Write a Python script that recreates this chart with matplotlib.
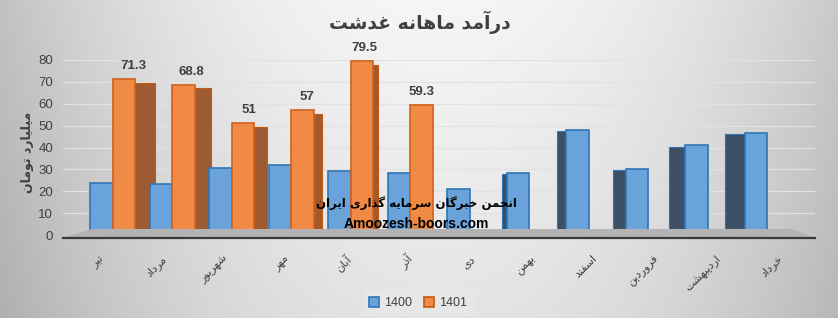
import numpy as np
import matplotlib
matplotlib.use("Agg")
import matplotlib.pyplot as plt
from matplotlib.patches import Patch, Polygon

plt.rcParams['font.family'] = ['Liberation Sans', 'DejaVu Sans']

# ---------------- data ----------------
months = ['تیر', 'مرداد', 'شهریور', 'مهر', 'آبان', 'آذر',
          'دی', 'بهمن', 'اسفند', 'فروردین', 'اردیبهشت', 'خرداد']
vals_1400 = [23.8, 23.4, 30.8, 32.2, 29.4, 28.5, 21, 28.5, 48, 30.4, 41, 46.7]
vals_1401 = [71.3, 68.8, 51, 57, 79.5, 59.3]
series_names = ['1400', '1401']
title = 'درآمد ماهانه غدشت'
ylabel = 'میلیارد تومان'
watermark1 = 'انجمن خبرگان سرمایه گذاری ایران'
watermark2 = 'Amoozesh-boors.com'
yticks = [0, 10, 20, 30, 40, 50, 60, 70, 80]

# ------------- simple Persian shaping (presentation forms) -------------
FORMS = {
    'ا': ('\uFE8D', '\uFE8E', None, None),
    'آ': ('\uFE81', '\uFE82', None, None),
    'ب': ('\uFE8F', '\uFE90', '\uFE91', '\uFE92'),
    'ت': ('\uFE95', '\uFE96', '\uFE97', '\uFE98'),
    'ج': ('\uFE9D', '\uFE9E', '\uFE9F', '\uFEA0'),
    'خ': ('\uFEA5', '\uFEA6', '\uFEA7', '\uFEA8'),
    'د': ('\uFEA9', '\uFEAA', None, None),
    'ذ': ('\uFEAB', '\uFEAC', None, None),
    'ر': ('\uFEAD', '\uFEAE', None, None),
    'ز': ('\uFEAF', '\uFEB0', None, None),
    'س': ('\uFEB1', '\uFEB2', '\uFEB3', '\uFEB4'),
    'ش': ('\uFEB5', '\uFEB6', '\uFEB7', '\uFEB8'),
    'غ': ('\uFECD', '\uFECE', '\uFECF', '\uFED0'),
    'ف': ('\uFED1', '\uFED2', '\uFED3', '\uFED4'),
    'ل': ('\uFEDD', '\uFEDE', '\uFEDF', '\uFEE0'),
    'م': ('\uFEE1', '\uFEE2', '\uFEE3', '\uFEE4'),
    'ن': ('\uFEE5', '\uFEE6', '\uFEE7', '\uFEE8'),
    'ه': ('\uFEE9', '\uFEEA', '\uFEEB', '\uFEEC'),
    'و': ('\uFEED', '\uFEEE', None, None),
    'ی': ('\uFBFC', '\uFBFD', '\uFBFE', '\uFBFF'),
    'گ': ('\uFB92', '\uFB93', '\uFB94', '\uFB95'),
}


def shape(text):
    chars = list(text)
    n = len(chars)
    out = []
    for k, c in enumerate(chars):
        if c not in FORMS:
            out.append(c)
            continue
        iso, fin, ini, med = FORMS[c]
        prev = chars[k - 1] if k > 0 else None
        nxt = chars[k + 1] if k < n - 1 else None
        jp = prev in FORMS and FORMS[prev][2] is not None
        jn = (nxt in FORMS) and ini is not None
        if jp and jn:
            f = med
        elif jp:
            f = fin
        elif jn:
            f = ini
        else:
            f = iso
        out.append(f)
    return ''.join(reversed(out))


# ---------------- figure ----------------
W, H = 838, 318
fig = plt.figure(figsize=(W / 100, H / 100), dpi=100)

# background gradient
bg = fig.add_axes([0, 0, 1, 1], zorder=-10)
gx, gy = np.meshgrid(np.linspace(0, 1, 400), np.linspace(0, 1, 200))
g = 0.965 - 0.19 * ((gx - 0.52) / 0.5) ** 2 - 0.07 * gy
bg.imshow(np.dstack([g, g, g]), extent=[0, 1, 0, 1], aspect='auto',
          origin='upper', vmin=0, vmax=1)
bg.set_axis_off()


def fx(px):
    return px / W


def fy(py):
    return 1 - py / H


ax = fig.add_axes([fx(63), fy(235), fx(815) - fx(63), fy(60) - fy(235)])
ax.set_facecolor('none')
unit = 59.5
ax.set_xlim((63 - 90) / unit, (815 - 90) / unit)
ax.set_ylim(0, 80)

# floor
floor = Polygon([[fx(63), fy(238)], [fx(815), fy(238)], [fx(792), fy(229)], [fx(92), fy(229)]],
                closed=True, transform=fig.transFigure, facecolor='#b3b3b3',
                edgecolor='none', zorder=0)
fig.patches.append(floor)

ax.set_yticks(yticks)
ax.yaxis.grid(True, color='#e2e2e2', lw=0.9)
ax.set_axisbelow(True)
for s in ['top', 'right', 'left', 'bottom']:
    ax.spines[s].set_visible(False)
ax.tick_params(axis='y', length=0, pad=7, labelsize=9.5, labelcolor='#404040')
ax.tick_params(axis='x', length=0)

idx = np.arange(len(months))
bw = 0.38
blue_x = idx + bw / 2
orange_idx = np.arange(len(vals_1401))
orange_x = orange_idx + bw + bw / 2

vp = 440  # perspective vanishing x (px)
side_w = {}

# side faces
for i, v in zip(orange_idx, vals_1401):
    front_c = 90 + (i + bw * 1.5) * unit
    sw = abs(front_c - vp) * 0.063 / unit
    side_w[i] = sw
    if sw > 0.02:
        ax.bar(i + 2 * bw + sw / 2, v - 1.8, width=sw, color='#9e5a30',
               edgecolor='#c55a11', lw=0.8, zorder=2)
for i, v in zip(idx, vals_1400):
    if i < 6:
        continue
    front_c = 90 + (i + bw / 2) * unit
    sw = abs(front_c - vp) * 0.063 / unit
    if sw > 0.02:
        ax.bar(i - sw / 2, v - 0.6, width=sw, color='#3c4f66',
               edgecolor='#2e75b6', lw=0.8, zorder=2)

# front faces
ax.bar(blue_x, vals_1400, width=bw, color='#6aa3d9', edgecolor='#2e75b6',
       lw=1.2, zorder=3)
ax.bar(orange_x, vals_1401, width=bw, color='#f08a44', edgecolor='#d2601a',
       lw=1.2, zorder=3)

# data labels
for i, x, v in zip(orange_idx, orange_x, vals_1401):
    ax.annotate(f'{v:g}', (x + side_w[i] / 2, v), xytext=(0, 5),
                textcoords='offset points', ha='center', va='bottom',
                fontsize=9.5, fontweight='bold', color='#404040')

# bottom axis line
fig.add_artist(plt.Line2D([fx(63), fx(815)], [fy(238), fy(238)],
                          color='#3a3a3a', lw=1.6, transform=fig.transFigure))

# x tick labels
tick_pos = idx + 0.22 + 0.035 * idx
ax.set_xticks(tick_pos)
ax.set_xticklabels([shape(m) for m in months], rotation=45, ha='right',
                   va='center', rotation_mode='anchor', fontsize=8,
                   color='#404040', family='DejaVu Sans')
ax.tick_params(axis='x', pad=16)

# y label
fig.text(fx(27), fy(152), shape(ylabel), rotation=90, ha='center', va='center',
         fontsize=9, fontweight='bold', color='#404040', family='DejaVu Sans')

# title
fig.text(fx(420), fy(22), shape(title), ha='center', va='center', fontsize=13.5,
         fontweight='bold', color='#404040', family='DejaVu Sans')

# watermark
fig.text(fx(416), fy(203), shape(watermark1), ha='center', va='center',
         fontsize=8.5, fontweight='bold', color='black', zorder=10,
         family='DejaVu Sans')
fig.text(fx(416), fy(224), watermark2, ha='center', va='center',
         fontsize=10, fontweight='bold', color='black', zorder=10)

# legend
handles = [Patch(facecolor='#6aa3d9', edgecolor='#2e75b6', lw=1.2),
           Patch(facecolor='#f08a44', edgecolor='#c55a11', lw=1.2)]
leg = fig.legend(handles, series_names, loc='center',
                 bbox_to_anchor=(fx(418), fy(303)), ncol=2, fontsize=9,
                 frameon=True, fancybox=False, handlelength=0.8,
                 handleheight=0.8, columnspacing=1.0, handletextpad=0.4,
                 borderpad=0.5)
leg.get_frame().set_facecolor('#e8e8e8')
leg.get_frame().set_edgecolor('none')
for t in leg.get_texts():
    t.set_color('#404040')

fig.savefig('out.png', dpi=100)
